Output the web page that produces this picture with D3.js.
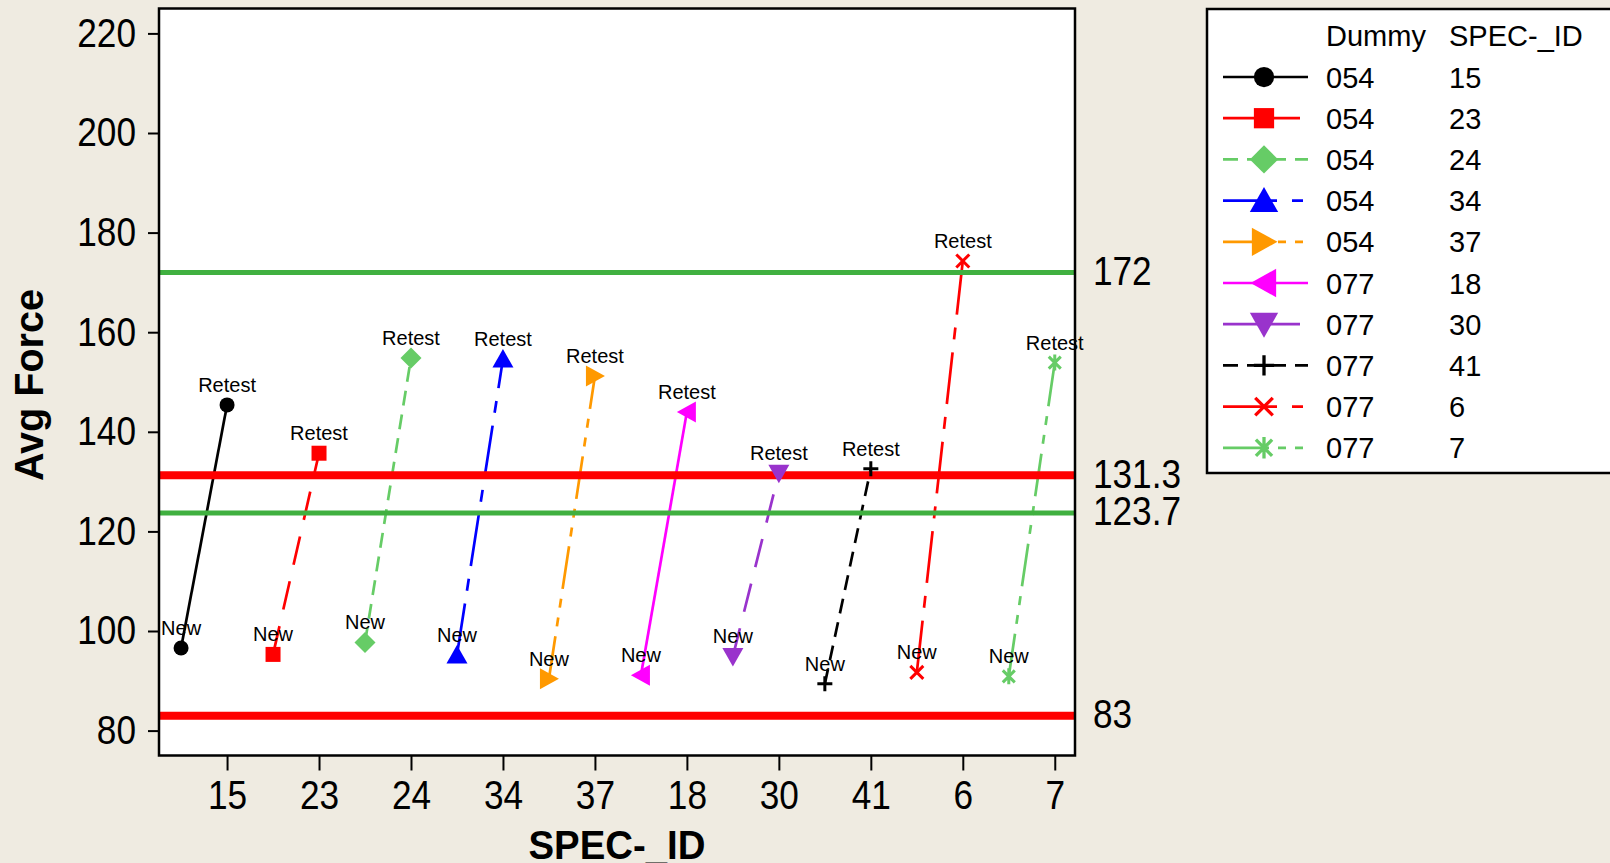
<!DOCTYPE html>
<html>
<head>
<meta charset="utf-8">
<script src="https://cdn.jsdelivr.net/npm/d3@7"></script>
<style>
  html, body { margin: 0; padding: 0; background: #EFEBE1; }
  svg { display: block; }
  text { font-family: "Liberation Sans", Arial, sans-serif; }
  .sxr { transform-box: fill-box; transform-origin: right center; transform: scaleX(0.88); }
  .sxc { transform-box: fill-box; transform-origin: center center; transform: scaleX(0.88); }
  .sxl { transform-box: fill-box; transform-origin: left center; transform: scaleX(0.88); }
</style>
</head>
<body>
<svg id="chart" width="1610" height="863"></svg>
<script>
// ---------------- data ----------------
const specIds    = ["15", "23", "24", "34", "37", "18", "30", "41", "6", "7"];
const dummy      = ["054", "054", "054", "054", "054", "077", "077", "077", "077", "077"];
const newVals    = [96.6, 95.3, 97.7, 95.2, 90.4, 91.1, 94.9, 89.4, 91.7, 90.9];
const retestVals = [145.4, 135.7, 154.8, 154.6, 151.2, 144.0, 131.7, 132.6, 174.3, 153.9];
const pointLabels = ["New", "Retest"];
const refValues  = [172, 131.3, 123.7, 83];
const refLabels  = ["172", "131.3", "123.7", "83"];
const yTicks     = [80, 100, 120, 140, 160, 180, 200, 220];

// ---------------- styles ----------------
const colors  = ["#000000", "#FF0000", "#66CC66", "#0000FF", "#FF9900", "#FF00FF", "#9933CC", "#000000", "#FF0000", "#66CC66"];
const markers = ["circle", "square", "diamond", "triUp", "triRight", "triLeft", "triDown", "plus", "times", "asterisk"];
const dashes  = [null, "29,17", "15,9", "52,13,12,13", "43,10,9,10,9,10", null, "29,17", "15,9", "52,13,12,13", "43,10,9,10,9,10"];
const legendDashes = [null, "77,20", "15,9", "54,15,11,15", "46,9,8,9,8,9", null, "77,20", "15,9", "54,15,11,15", "46,9,8,9,8,9"];
const refColors = ["#40B040", "#FF0000", "#40B040", "#FF0000"];
const refWidths = [5, 8, 5, 8];

const svg = d3.select("#chart");
const L = 159, R = 1075, T = 8.5, B = 755.5;

const x = d3.scaleLinear().domain([-0.74, 9.22]).range([L, R]);
const y = d3.scaleLinear().domain([75, 225]).range([B, T]);

// plot background
svg.append("rect").attr("x", L).attr("y", T).attr("width", R - L).attr("height", B - T).attr("fill", "#fff");

// axes
const yAxis = svg.append("g").attr("transform", `translate(${L},0)`)
  .call(d3.axisLeft(y).tickValues(yTicks).tickSize(11).tickPadding(12).tickFormat(d3.format("d")));
const xAxis = svg.append("g").attr("transform", `translate(0,${B})`)
  .call(d3.axisBottom(x).tickValues(d3.range(specIds.length)).tickSize(15).tickPadding(10).tickFormat(i => specIds[i]));
[yAxis, xAxis].forEach(g => {
  g.select(".domain").remove();
  g.selectAll(".tick line").attr("stroke", "#000").attr("stroke-width", 2);
  g.selectAll(".tick text").attr("fill", "#000").style("font-size", "40px").style("font-family", "'Liberation Sans', Arial, sans-serif");
});
yAxis.selectAll(".tick text").attr("class", "sxr");
xAxis.selectAll(".tick text").attr("class", "sxc");

// marker path generator
function markerPath(type, k) {
  const p = d3.path();
  switch (type) {
    case "circle": p.arc(0, 0, 7.5 * k, 0, 2 * Math.PI); break;
    case "square": p.rect(-7.5 * k, -7.5 * k, 15 * k, 15 * k); break;
    case "diamond": p.moveTo(0, -10.5 * k); p.lineTo(10.5 * k, 0); p.lineTo(0, 10.5 * k); p.lineTo(-10.5 * k, 0); p.closePath(); break;
    case "triUp": p.moveTo(0, -10 * k); p.lineTo(10.5 * k, 8.5 * k); p.lineTo(-10.5 * k, 8.5 * k); p.closePath(); break;
    case "triDown": p.moveTo(0, 10 * k); p.lineTo(10.5 * k, -8.5 * k); p.lineTo(-10.5 * k, -8.5 * k); p.closePath(); break;
    case "triRight": p.moveTo(10 * k, 0); p.lineTo(-9 * k, -10.5 * k); p.lineTo(-9 * k, 10.5 * k); p.closePath(); break;
    case "triLeft": p.moveTo(-10 * k, 0); p.lineTo(9 * k, -10.5 * k); p.lineTo(9 * k, 10.5 * k); p.closePath(); break;
    case "plus": p.moveTo(-7.5 * k, 0); p.lineTo(7.5 * k, 0); p.moveTo(0, -7.5 * k); p.lineTo(0, 7.5 * k); break;
    case "times": p.moveTo(-6.5 * k, -6.5 * k); p.lineTo(6.5 * k, 6.5 * k); p.moveTo(-6.5 * k, 6.5 * k); p.lineTo(6.5 * k, -6.5 * k); break;
    case "asterisk": p.moveTo(-6 * k, -6 * k); p.lineTo(6 * k, 6 * k); p.moveTo(-6 * k, 6 * k); p.lineTo(6 * k, -6 * k); p.moveTo(0, -8 * k); p.lineTo(0, 8 * k); break;
  }
  return p.toString();
}
const strokeMarkers = new Set(["plus", "times", "asterisk"]);
function drawMarker(g, type, color, k) {
  const path = g.append("path").attr("d", markerPath(type, k));
  if (strokeMarkers.has(type)) {
    path.attr("fill", "none").attr("stroke", color).attr("stroke-width", 3 * Math.min(k, 1.1)).attr("stroke-linecap", "butt");
  } else {
    path.attr("fill", color).attr("stroke", "none");
  }
  return path;
}

// series data
const series = specIds.map((id, i) => ({
  id, i,
  pts: [
    { xv: i - 0.5, yv: newVals[i], label: pointLabels[0] },
    { xv: i, yv: retestVals[i], label: pointLabels[1] }
  ]
}));

const line = d3.line().x(d => x(d.xv)).y(d => y(d.yv));

// connecting lines
svg.append("g").selectAll("path").data(series).join("path")
  .attr("d", s => line(s.pts))
  .attr("fill", "none")
  .attr("stroke", s => colors[s.i])
  .attr("stroke-width", 2.7)
  .attr("stroke-dasharray", s => dashes[s.i]);

// reference lines (drawn over the connecting lines)
const refG = svg.append("g");
refValues.forEach((v, j) => {
  refG.append("line").attr("x1", L).attr("x2", R).attr("y1", y(v)).attr("y2", y(v))
    .attr("stroke", refColors[j]).attr("stroke-width", refWidths[j]);
  refG.append("text").attr("class", "sxl").attr("x", 1093).attr("y", y(v) - 2).attr("dy", "0.36em")
    .style("font-size", "40px").attr("fill", "#000").text(refLabels[j]);
});

// markers + labels
const mG = svg.append("g");
series.forEach(s => {
  s.pts.forEach(p => {
    const g = mG.append("g").attr("transform", `translate(${x(p.xv)},${y(p.yv)})`);
    drawMarker(g, markers[s.i], colors[s.i], 1);
  });
});
const lblG = svg.append("g");
series.forEach(s => {
  s.pts.forEach(p => {
    lblG.append("text").attr("x", x(p.xv)).attr("y", y(p.yv) - 13)
      .attr("text-anchor", "middle").style("font-size", "20px").attr("fill", "#000").text(p.label);
  });
});

// plot border
svg.append("rect").attr("x", L).attr("y", T).attr("width", R - L).attr("height", B - T)
  .attr("fill", "none").attr("stroke", "#000").attr("stroke-width", 2.5);

// axis titles
svg.append("text").attr("transform", "translate(43,385) rotate(-90)")
  .attr("text-anchor", "middle").style("font-size", "41px").style("font-weight", "bold")
  .attr("textLength", 192).attr("lengthAdjust", "spacingAndGlyphs").text("Avg Force");
svg.append("text").attr("x", 617).attr("y", 859)
  .attr("text-anchor", "middle").style("font-size", "41px").style("font-weight", "bold")
  .attr("textLength", 177).attr("lengthAdjust", "spacingAndGlyphs").text("SPEC-_ID");

// legend
const lg = svg.append("g");
lg.append("rect").attr("x", 1207).attr("y", 9).attr("width", 420).attr("height", 464)
  .attr("fill", "#fff").attr("stroke", "#000").attr("stroke-width", 2.5);
lg.append("text").attr("x", 1326).attr("y", 46).style("font-size", "29px").text("Dummy");
lg.append("text").attr("x", 1449).attr("y", 46).style("font-size", "29px").text("SPEC-_ID");
series.forEach(s => {
  const cy = 77 + 41.2 * s.i;
  lg.append("line").attr("x1", 1223).attr("x2", 1308).attr("y1", cy).attr("y2", cy)
    .attr("stroke", colors[s.i]).attr("stroke-width", 2.7).attr("stroke-dasharray", legendDashes[s.i]);
  const g = lg.append("g").attr("transform", `translate(1264,${cy})`);
  drawMarker(g, markers[s.i], colors[s.i], 1.35);
  lg.append("text").attr("x", 1326).attr("y", cy + 10.5).style("font-size", "29px").text(dummy[s.i]);
  lg.append("text").attr("x", 1449).attr("y", cy + 10.5).style("font-size", "29px").text(s.id);
});
</script>
</body>
</html>
